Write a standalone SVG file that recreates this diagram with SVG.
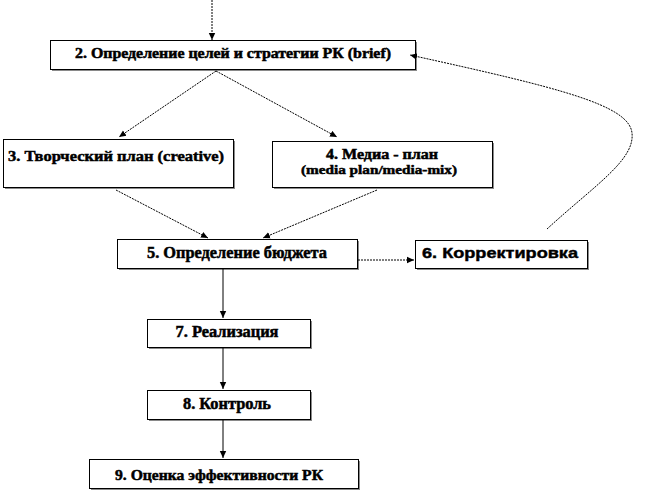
<svg xmlns="http://www.w3.org/2000/svg" width="650" height="492" viewBox="0 0 650 492">
<defs>
<marker id="arr" markerUnits="userSpaceOnUse" markerWidth="8" markerHeight="8" refX="7" refY="4" orient="auto">
<path d="M0,0.8 L7,4 L0,7.2 Z" fill="#000"/>
</marker>
</defs>
<style>
.box{fill:#fff;stroke:#000;stroke-width:1}
.sh{fill:#8a8a8a}
.t{font-family:"Liberation Serif","DejaVu Serif",serif;font-weight:bold;fill:#000;stroke:#000;stroke-width:0.5;text-anchor:middle}
.ts{font-family:"Liberation Sans","DejaVu Sans",sans-serif;font-weight:bold;fill:#000;stroke:#000;stroke-width:0.4;text-anchor:middle}
.dot{fill:none;stroke:#000;stroke-width:1;stroke-dasharray:2,1}
.sol{fill:none;stroke:#000;stroke-width:1}
</style>
<rect width="650" height="492" fill="#fff"/>
<g id="node2">
<rect class="sh" x="52" y="42" width="365" height="29"/>
<rect class="box" x="50.5" y="40.5" width="365" height="29"/>
<text class="t" x="233" y="58" font-size="14" textLength="316" lengthAdjust="spacingAndGlyphs">2. Определение целей и стратегии РК (brief)</text>
</g>
<g id="node3">
<rect class="sh" x="5" y="141" width="230" height="48"/>
<rect class="box" x="3.5" y="139.5" width="230" height="48"/>
<text class="t" x="116" y="161" font-size="15" textLength="216" lengthAdjust="spacingAndGlyphs">3. Творческий план (creative)</text>
</g>
<g id="node4">
<rect class="sh" x="274" y="143" width="220" height="46"/>
<rect class="box" x="272.5" y="141.5" width="220" height="46"/>
<text class="t" x="382" y="159" font-size="14" textLength="112" lengthAdjust="spacingAndGlyphs">4. Медиа - план</text>
<text class="t" x="379" y="174" font-size="13" textLength="156" lengthAdjust="spacingAndGlyphs">(media plan/media-mix)</text>
</g>
<g id="node5">
<rect class="sh" x="119" y="241" width="240" height="29"/>
<rect class="box" x="117.5" y="239.5" width="240" height="29"/>
<text class="t" x="237" y="258" font-size="16" textLength="180" lengthAdjust="spacingAndGlyphs">5. Определение бюджета</text>
</g>
<g id="node6">
<rect class="sh" x="417" y="242" width="172" height="28"/>
<rect class="box" x="415.5" y="240.5" width="172" height="28"/>
<text class="ts" x="500" y="258" font-size="14" textLength="156" lengthAdjust="spacingAndGlyphs">6. Корректировка</text>
</g>
<g id="node7">
<rect class="sh" x="149" y="321" width="163" height="28"/>
<rect class="box" x="147.5" y="319.5" width="163" height="28"/>
<text class="t" x="227" y="337" font-size="16" textLength="103" lengthAdjust="spacingAndGlyphs">7. Реализация</text>
</g>
<g id="node8">
<rect class="sh" x="149" y="392" width="163" height="29"/>
<rect class="box" x="147.5" y="390.5" width="163" height="29"/>
<text class="t" x="227" y="409" font-size="16" textLength="88" lengthAdjust="spacingAndGlyphs">8. Контроль</text>
</g>
<g id="node9">
<rect class="sh" x="91" y="461" width="269" height="29"/>
<rect class="box" x="89.5" y="459.5" width="269" height="29"/>
<text class="t" x="219" y="480" font-size="15" textLength="208" lengthAdjust="spacingAndGlyphs">9. Оценка эффективности РК</text>
</g>
<g id="connectors">
<path class="dot" d="M212,0 L212,40" marker-end="url(#arr)"/>
<path class="dot" d="M216,71 L119,137" marker-end="url(#arr)"/>
<path class="dot" d="M216,71 L337,137" marker-end="url(#arr)"/>
<path class="dot" d="M116,190 L208,238" marker-end="url(#arr)"/>
<path class="dot" d="M377,190 L263,238" marker-end="url(#arr)"/>
<path class="dot" d="M358,260 L414,260" marker-end="url(#arr)"/>
<path class="sol" d="M223,269 L223,318" marker-end="url(#arr)"/>
<path class="sol" d="M223,348 L223,389" marker-end="url(#arr)"/>
<path class="sol" d="M223,420 L223,458" marker-end="url(#arr)"/>
<path class="dot" d="M547,229 C595,185 635,160 632,133 C629,105 560,88 410,55" marker-end="url(#arr)"/>
</g>
</svg>
